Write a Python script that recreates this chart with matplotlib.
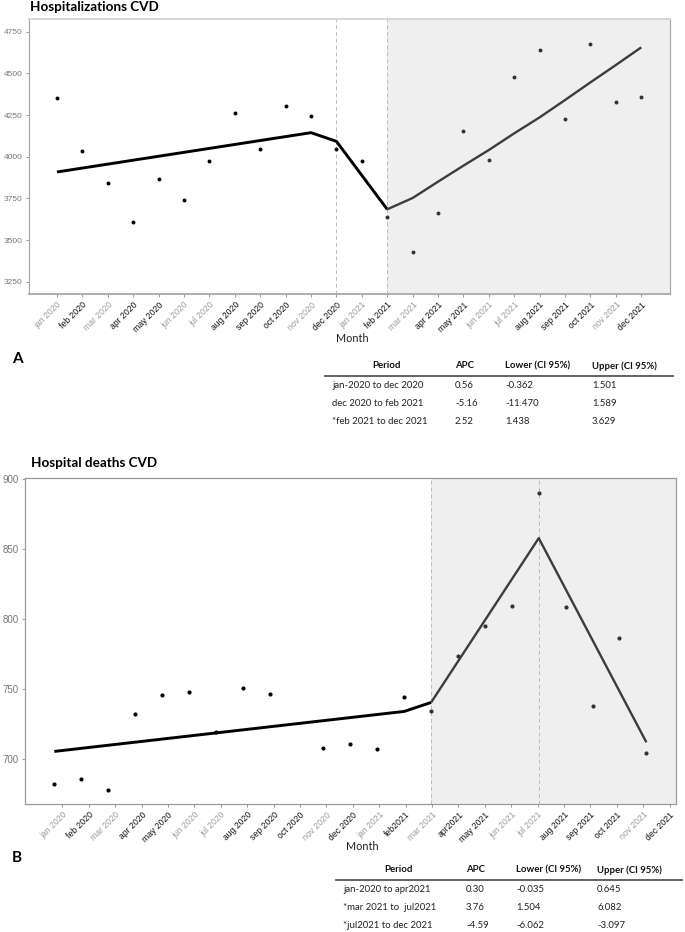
import numpy as np
import matplotlib
matplotlib.use('Agg')
from matplotlib import pyplot as plt
from matplotlib.lines import Line2D

W, H = 685, 932

# ---- data ----
labels_a = ['jan 2020', 'feb 2020', 'mar 2020', 'apr 2020', 'may 2020', 'jun 2020',
            'jul 2020', 'aug 2020', 'sep 2020', 'oct 2020', 'nov 2020', 'dec 2020',
            'jan 2021', 'feb 2021', 'mar 2021', 'apr 2021', 'may 2021', 'jun 2021',
            'jul 2021', 'aug 2021', 'sep 2021', 'oct 2021', 'nov 2021', 'dec 2021']
labels_b = ['jan 2020', 'feb 2020', 'mar 2020', 'apr 2020', 'may 2020', 'jun 2020',
            'jul 2020', 'aug 2020', 'sep 2020', 'oct 2020', 'nov 2020', 'dec 2020',
            'jan 2021', 'feb2021', 'mar 2021', 'apr2021', 'may 2021', 'jun 2021',
            'jul 2021', 'aug 2021', 'sep 2021', 'oct 2021', 'nov 2021', 'dec 2021']

hosp = [4350, 4034, 3842, 3608, 3864, 3740, 3974, 4264, 4046, 4304, 4242, 4044,
        3972, 3636, 3430, 3660, 4152, 3982, 4478, 4642, 4226, 4676, 4326, 4360]
hosp_fit1_idx = [0, 10, 11, 13]
hosp_fit1 = [3908, 4144, 4092, 3684]
hosp_fit2_idx = [13, 14, 15, 16, 17, 18, 19, 20, 21, 22, 23]
hosp_fit2 = [3684, 3752, 3850, 3946, 4040, 4140, 4236, 4340, 4446, 4550, 4656]

deaths = [681.9, 685.7, 677.8, 731.7, 745.5, 747.4, 718.8, 750.5, 746.5, np.nan, 707.6, 710.7,
          706.7, 743.8, 733.8, 773.6, 794.6, 809.4, 889.9, 808.4, 737.4, 786.3, 703.8, np.nan]
deaths_fit1_idx = [0, 13, 14]
deaths_fit1 = [705.2, 733.8, 740.2]
deaths_fit2_idx = [14, 18, 22]
deaths_fit2 = [740.2, 857.7, 711.7]

table_cols = ['Period', 'APC', 'Lower (CI 95%)', 'Upper (CI 95%)']
table_a = [['jan-2020 to dec 2020', '0.56', '-0.362', '1.501'],
           ['dec 2020 to feb 2021', '-5.16', '-11.470', '1.589'],
           ['*feb 2021 to dec 2021', '2.52', '1.438', '3.629']]
table_b = [['jan-2020 to apr2021', '0.30', '-0.035', '0.645'],
           ['*mar 2021 to  jul2021', '3.76', '1.504', '6.082'],
           ['*jul2021 to dec 2021', '-4.59', '-6.062', '-3.097']]

light_months = ('jan', 'mar', 'jun', 'jul', 'nov')

fig = plt.figure(figsize=(W / 100, H / 100), dpi=100)


def px(x, y):
    return x / W, 1 - y / H


def axes_px(left, top, right, bottom):
    return fig.add_axes([left / W, 1 - bottom / H, (right - left) / W, (bottom - top) / H])


def style_axes(ax, ylab_size):
    ax.tick_params(axis='both', length=2.5, width=0.6, color='#888888', pad=2)
    ax.tick_params(axis='y', labelsize=ylab_size, labelcolor='#777777')
    for lab in ax.get_xticklabels():
        lab.set_rotation(45)
        lab.set_ha('right')
        lab.set_va('top')
        lab.set_rotation_mode('anchor')
        lab.set_fontsize(6.2)
        lab.set_family('Liberation Sans')
        if lab.get_text().startswith(light_months):
            lab.set_color('#9c9c9c')
        else:
            lab.set_color('#111111')
    for lab in ax.get_yticklabels():
        lab.set_family('Liberation Sans')


def draw_table(rows, col_x, period_c, line_x, y_head, y_line, y_rows):
    for name, x in zip(table_cols, [period_c] + col_x):
        fig.text(*px(x, y_head), name, ha='center' if name == 'Period' else 'left',
                 va='center', family='Lato', weight='bold', size=6.9, color='#111111')
    fig.add_artist(Line2D([line_x[0] / W, line_x[1] / W], [1 - y_line / H] * 2,
                          color='#555555', lw=1.3))
    for row, y in zip(rows, y_rows):
        fig.text(*px(line_x[0] + 7, y), row[0], ha='left', va='center',
                 family='Lato', size=6.9, color='#222222')
        for val, x in zip(row[1:], col_x):
            fig.text(*px(x, y), val, ha='left', va='center', family='Lato',
                     size=6.9, color='#222222')


# ---- A: hospitalizations ----
x = np.arange(24)
ax1 = axes_px(29, 19, 670, 294)
ax1.axvspan(13, 30, color='#efefef', zorder=0, lw=0)
for v in [11, 13]:
    ax1.axvline(v, color='#bbbbbb', ls=(0, (4, 3)), lw=0.7, zorder=1)
ax1.scatter(x[:13], hosp[:13], s=8, color='black', zorder=3, lw=0)
ax1.scatter(x[13:], hosp[13:], s=8, color='#333333', zorder=3, lw=0)
ax1.plot(hosp_fit1_idx, hosp_fit1, color='black', lw=2.1, solid_capstyle='butt', zorder=4)
ax1.plot(hosp_fit2_idx, hosp_fit2, color='#3c3c3c', lw=1.7, solid_capstyle='butt', zorder=4)
ax1.set_xlim(-1.1, 24.13)
ax1.set_ylim(3176, 4826)
ax1.set_yticks([3250, 3500, 3750, 4000, 4250, 4500, 4750])
ax1.set_xticks(x)
ax1.set_xticklabels(labels_a)
style_axes(ax1, 6)
ax1.spines['top'].set_color('#d6d6d6')
ax1.spines['top'].set_linewidth(1.4)
for s in ['left', 'bottom', 'right']:
    ax1.spines[s].set_color('#a8a8a8')
    ax1.spines[s].set_linewidth(0.9)
ax1.spines['bottom'].set_linewidth(1.3)

fig.text(*px(30, 7), 'Hospitalizations CVD', ha='left', va='center',
         family='Lato', weight='bold', size=9.7)
fig.text(*px(352, 339), 'Month', ha='center', va='center', family='Lato', size=7.8, color='#222222')
fig.text(*px(12, 359), 'A', ha='left', va='center', family='Lato', weight='bold', size=11)
draw_table(table_a, [455, 505, 592], 386, (325, 673), 366, 376, [385, 404, 422])

# ---- B: hospital deaths ----
ax2 = axes_px(25, 478, 676, 804)
ax2.axvspan(14, 30, color='#efefef', zorder=0, lw=0)
for v in [14, 18]:
    ax2.axvline(v, color='#bbbbbb', ls=(0, (4, 3)), lw=0.7, zorder=1)
ax2.scatter(x[:14], deaths[:14], s=9, color='black', zorder=3, lw=0)
ax2.scatter(x[14:], deaths[14:], s=9, color='#333333', zorder=3, lw=0)
ax2.plot(deaths_fit1_idx, deaths_fit1, color='black', lw=2.1, solid_capstyle='butt', zorder=4)
ax2.plot(deaths_fit2_idx, deaths_fit2, color='#3c3c3c', lw=1.7, solid_capstyle='butt', zorder=4)
ax2.set_xlim(-1.09, 23.1)
ax2.set_ylim(667.6, 900.7)
ax2.set_yticks([700, 750, 800, 850, 900])
# in the source the tick marks sit slightly off the monthly points
ax2.set_xticks(x * 0.981 + 0.3)
ax2.set_xticklabels(labels_b)
style_axes(ax2, 7)
for s in ax2.spines.values():
    s.set_color('#9a9a9a')
    s.set_linewidth(0.9)

fig.text(*px(31, 463), 'Hospital deaths CVD', ha='left', va='center',
         family='Lato', weight='bold', size=9.7)
fig.text(*px(362, 847), 'Month', ha='center', va='center', family='Lato', size=7.8, color='#222222')
fig.text(*px(12, 858), 'B', ha='left', va='center', family='Lato', weight='bold', size=11)
draw_table(table_b, [466, 516, 597], 398, (336, 682), 870, 880, [890, 907, 925])

fig.savefig('out.png', dpi=100)
